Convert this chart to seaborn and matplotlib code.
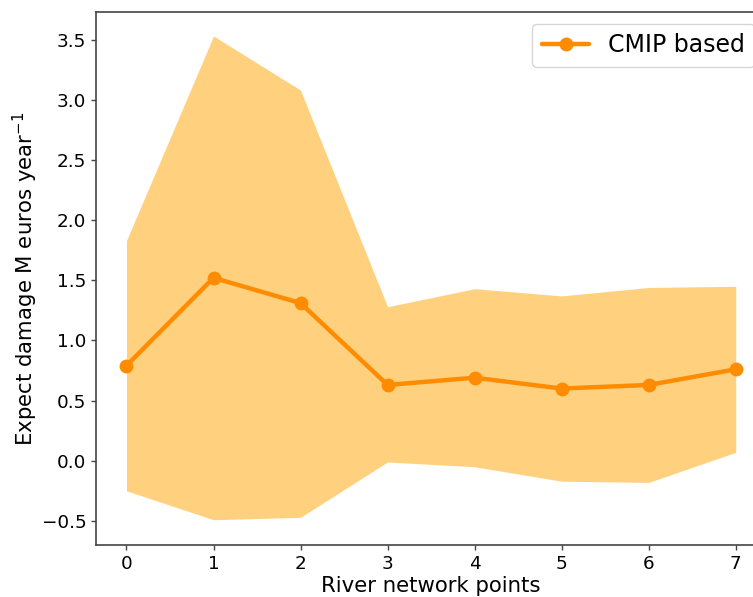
import numpy as np
import pandas as pd
import matplotlib
matplotlib.use("Agg")
import matplotlib.pyplot as plt
import seaborn as sns

# Expected damage per river network point (M euros / year)
points = [0, 1, 2, 3, 4, 5, 6, 7]
mean_damage = [0.79, 1.52, 1.31, 0.63, 0.69, 0.60, 0.63, 0.76]
upper_damage = [1.83, 3.53, 3.08, 1.28, 1.43, 1.37, 1.44, 1.45]
lower_damage = [-0.25, -0.49, -0.47, -0.01, -0.05, -0.17, -0.18, 0.07]
series_label = "CMIP based"

df = pd.DataFrame({"point": points, "damage": mean_damage})

sns.set_style("white")
plt.rcParams["font.family"] = ["DejaVu Sans"]
plt.rcParams["text.color"] = "black"
plt.rcParams["axes.labelcolor"] = "black"

fig = plt.figure(figsize=(7.53, 5.97), dpi=100)
ax = fig.add_axes([0.1275, 0.0871, 0.890, 0.893])

ax.fill_between(points, lower_damage, upper_damage, color="orange", alpha=0.5,
                linewidth=0)
sns.lineplot(data=df, x="point", y="damage", ax=ax, color="darkorange",
             linewidth=3.2, marker="o", markersize=10, markeredgewidth=0,
             label=series_label)

ax.set_xlim(-0.35, 7.35)
ax.set_ylim(-0.70, 3.73)
ax.set_xticks(points)
ax.set_yticks([-0.5, 0.0, 0.5, 1.0, 1.5, 2.0, 2.5, 3.0, 3.5])
ax.tick_params(axis="both", labelsize=13.2, length=3.5, width=1, color="#444444",
               bottom=True, left=True, labelcolor="black", pad=3.5)
for sp in ax.spines.values():
    sp.set_color("#444444")
    sp.set_linewidth(1.2)

ax.set_xlabel("River network points", fontsize=15.3, labelpad=2)
ax.set_ylabel("Expect damage M euros year$^{-1}$", fontsize=15.3, labelpad=1)

leg = ax.legend(loc="upper right", fontsize=17, frameon=True, borderpad=0.4,
                handlelength=2.0)
for t in leg.get_texts():
    t.set_color("black")

fig.savefig("out.png", dpi=100)
